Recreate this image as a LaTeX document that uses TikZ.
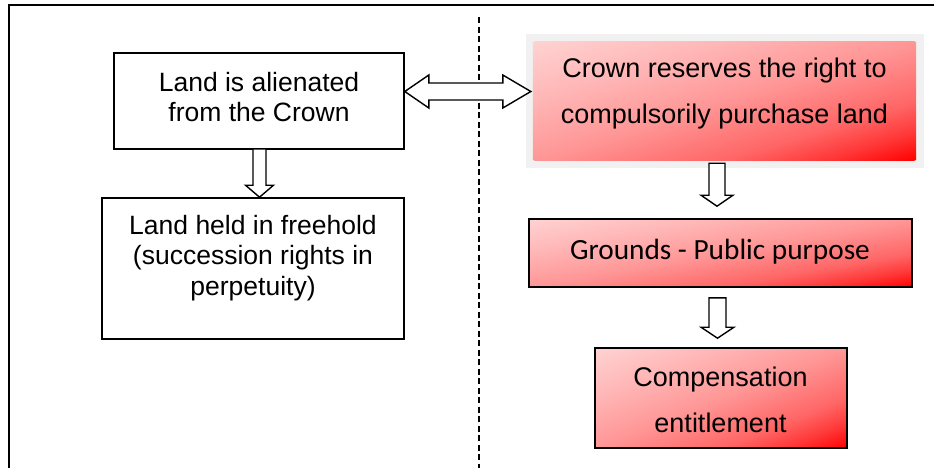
\documentclass[tikz,border=0pt]{standalone}
\usepackage{fontspec}
\setmainfont{Liberation Sans}
\newfontfamily\carlitofont{Carlito}
\usetikzlibrary{calc}
\pgfdeclarelayer{background}
\pgfsetlayers{background,main}
\definecolor{pinklt}{RGB}{255,210,210}
\definecolor{pinkq}{RGB}{255,182,182}
\definecolor{pinkmid}{RGB}{255,150,150}
\definecolor{redq}{RGB}{255,102,102}
\definecolor{redqq}{RGB}{255,55,55}
\definecolor{redfull}{RGB}{255,0,0}
\definecolor{framegray}{RGB}{241,241,241}
\pgfdeclareverticalshading{diagred}{100bp}{color(0bp)=(redfull); color(25bp)=(redfull); color(31bp)=(redqq); color(37.5bp)=(redq); color(50bp)=(pinkmid); color(62.5bp)=(pinkq); color(75bp)=(pinklt); color(100bp)=(pinklt)}
\tikzset{
  plainbox/.style={draw=black, line width=1.6pt, inner sep=0pt, fill=white},
  redbox/.style={draw=black, line width=1.6pt, inner sep=0pt},
  redplain/.style={inner sep=0pt},
  grayframe/.style={fill=framegray, inner sep=0pt},
  diagshade/.style={shading=diagred},
  lefttext/.style={font=\fontsize{26.5}{30.5}\selectfont, align=center, inner sep=0pt},
  righttext/.style={font=\fontsize{27}{46}\selectfont, align=center, inner sep=0pt},
  calitext/.style={font=\carlitofont\fontsize{29.3}{34}\selectfont, align=center, inner sep=0pt},
  barrow/.style={draw=black, fill=white, line width=1.4pt, line join=miter},
  frameline/.style={draw=black, line width=1.8pt},
  divider/.style={draw=black, line width=1.2pt, dash pattern=on 6pt off 3.5pt}
}
% diagonal gradient fill of a node (top-left light, bottom-right red): name, width, height
\newcommand{\gradfill}[3]{%
  \begin{pgfonlayer}{background}
  \begin{scope}
  \clip (#1.south west) rectangle (#1.north east);
  \begin{scope}[transform canvas={shift={(#1.center)}, xscale=#2/100, yscale=#3/100, rotate=45}]
    \shade[diagshade] (-70.8,-70.8) rectangle (70.8,70.8);
  \end{scope}
  \end{scope}
  \end{pgfonlayer}}
\begin{document}
\begin{tikzpicture}[x=1pt, y=-1pt]
\useasboundingbox (0,0) rectangle (934,467);
% outer frame (partly cut off)
\draw[frameline] (9,475) -- (9,5) -- (945,5);
% dashed divider
\draw[divider] (479,17) -- (479,475);

% left boxes
\node[plainbox, minimum width=290pt, minimum height=96pt] (b1) at (259,101) {};
\node[lefttext] (t1) at (259,97) {Land is alienated\\from the Crown};
\node[plainbox, minimum width=302pt, minimum height=141pt] (b2) at (253,268.5) {};
\node[lefttext] (t2) at (253,258) {Land held in freehold\\(succession rights in\\perpetuity)};

% right boxes
\begin{pgfonlayer}{background}
\node[grayframe, minimum width=398pt, minimum height=134pt] (r1f) at (725,101) {};
\end{pgfonlayer}
\node[redplain, minimum width=383pt, minimum height=118pt] (r1) at (724.5,101) {};
\gradfill{r1}{383}{118}
\node[righttext] (tr1) at (724.5,94) {Crown reserves the right to\\compulsorily purchase land};
\node[redbox, minimum width=383pt, minimum height=68pt] (g) at (720.5,253) {};
\gradfill{g}{383}{68}
\node[calitext] (tg) at (720,252) {Grounds - Public purpose};
\node[redbox, minimum width=252pt, minimum height=100pt] (c) at (721,398) {};
\gradfill{c}{252}{100}
\node[righttext] (tc) at (720.5,400) {Compensation\\entitlement};

% double arrow between b1 and r1
\coordinate (dl) at ($(b1.east)+(0,-9.5)$);
\coordinate (dr) at ($(r1.west)+(-2,-9.5)$);
\draw[barrow] (dl) -- ($(dl)+(24,-16.5)$) -- ($(dl)+(24,-8.5)$) -- ($(dr)+(-28,-8.5)$)
  -- ($(dr)+(-28,-16.5)$) -- (dr) -- ($(dr)+(-28,16.5)$) -- ($(dr)+(-28,8.5)$)
  -- ($(dl)+(24,8.5)$) -- ($(dl)+(24,16.5)$) -- cycle;

% left down arrow b1 -> b2
\coordinate (l1s) at ($(b1.south)+(0.5,-1)$);
\coordinate (l1e) at (l1s |- b2.north);
\draw[barrow] ($(l1s)+(-6.5,0)$) -- ($(l1e)+(-6.5,-12)$) -- ($(l1e)+(-14,-12)$) -- (l1e)
  -- ($(l1e)+(14,-12)$) -- ($(l1e)+(6.5,-12)$) -- ($(l1s)+(6.5,0)$) -- cycle;

% right down arrow r1 -> g
\coordinate (a1s) at ($(r1.south)+(-7.5,3)$);
\coordinate (a1e) at ($(a1s |- g.north)+(0,-12)$);
\draw[barrow] ($(a1s)+(-8,0)$) -- ($(a1e)+(-8,-11)$) -- ($(a1e)+(-16,-11)$) -- (a1e)
  -- ($(a1e)+(16,-11)$) -- ($(a1e)+(8,-11)$) -- ($(a1s)+(8,0)$) -- cycle;

% right down arrow g -> c
\coordinate (a2s) at ($(g.south)+(-3,10)$);
\coordinate (a2e) at ($(a2s |- c.north)+(0,-9)$);
\draw[barrow] ($(a2s)+(-8.5,0)$) -- ($(a2e)+(-8.5,-11)$) -- ($(a2e)+(-16.5,-11)$) -- (a2e)
  -- ($(a2e)+(16.5,-11)$) -- ($(a2e)+(8.5,-11)$) -- ($(a2s)+(8.5,0)$) -- cycle;
\end{tikzpicture}
\end{document}
